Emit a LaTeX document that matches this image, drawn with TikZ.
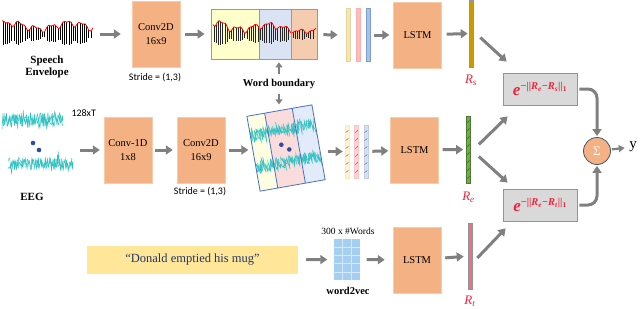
\documentclass[tikz,border=0pt]{standalone}
\usepackage{fontspec}
\setmainfont{Liberation Serif}
\newfontfamily\calib{Carlito}
\usetikzlibrary{calc,arrows.meta}
\definecolor{salmon}{HTML}{F4B183}
\definecolor{salmonedge}{HTML}{F8CBAD}
\definecolor{arrgray}{HTML}{808080}
\definecolor{segblue}{HTML}{4472C4}
\definecolor{segyel}{HTML}{FFFFCC}
\definecolor{segblu}{HTML}{DAE3F3}
\definecolor{segora}{HTML}{F4CCB0}
\definecolor{eyel}{HTML}{FDFDE2}
\definecolor{epink}{HTML}{FADCDC}
\definecolor{eblue}{HTML}{E3EAFA}
\definecolor{eegcyan}{HTML}{33C2C2}
\definecolor{dotblue}{HTML}{2F4BA8}
\definecolor{fred}{HTML}{F0243C}
\definecolor{cmpgray}{HTML}{D9D9D9}
\definecolor{cmpedge}{HTML}{8497B0}
\definecolor{navytxt}{HTML}{203864}
\definecolor{txtyel}{HTML}{FFE699}
\definecolor{w2vblue}{HTML}{A4CEF2}
\definecolor{gold}{HTML}{CC9900}
\definecolor{leaf}{HTML}{70AD47}
\definecolor{rose}{HTML}{FF6B6B}
\definecolor{slate}{HTML}{44546A}
\newcommand{\rsub}[1]{\textit{R}\textsubscript{\textit{#1}}}
\newcommand{\expd}[1]{\textit{e}\raisebox{6pt}{\fontsize{10.5}{11}\selectfont −||\rsub{e}−\rsub{#1}||\textsubscript{1}}}
\tikzset{blk/.style={draw=salmonedge,fill=salmon,minimum width=48pt,minimum height=66pt,inner sep=0pt,align=center,font=\fontsize{10.5}{14}\selectfont},
arr/.style={draw=arrgray,line width=3pt,-{Triangle[width=9pt,length=7pt]},shorten <=4pt,shorten >=4pt},
vbar/.style={minimum width=4pt,minimum height=53pt,inner sep=0pt,line width=0.6pt},
cmp/.style={draw=cmpedge,fill=cmpgray,line width=0.8pt,minimum width=74pt,minimum height=32pt,text=fred,font=\bfseries\fontsize{17}{18}\selectfont},
rlab/.style={text=fred,font=\fontsize{13}{14}\selectfont},
lbl/.style={font=\bfseries\fontsize{10.5}{11}\selectfont,align=center},
note/.style={font=\calib\fontsize{10}{11}\selectfont},
noise/.style={eegcyan,line width=0.45pt}}

\begin{document}
\begin{tikzpicture}[x=1pt,y=-1pt,declare function={envA(\t)=9+3*sin(6*\t+30)+2.5*sin(23*\t)+1.5*sin(47*\t+10);}]
\useasboundingbox (0,0) rectangle (640,308);
\foreach \x in {3,5.2,...,92} \draw[line width=0.9pt] (\x,{35-envA(\x)}) -- (\x,{35+0.7*envA(\x)});
\draw[red,line width=0.8pt] plot[smooth,domain=2:93,samples=46] (\x,{35-envA(\x)});
\node[minimum width=92pt,minimum height=34pt] (spw) at (47,34) {};
\node[lbl,font=\bfseries\fontsize{11}{11.5}\selectfont] (spl) at (47,67) {Speech\\Envelope};
\node[blk] (cnvS) at (156,34) {Conv2D\\16x9};
\node[note] (strS) at (155,78) {Stride = (1,3)};
\fill[segyel] (211,9) rectangle (259,59); \fill[segblu] (259,9) rectangle (291,59); \fill[segora] (291,9) rectangle (317,59);
\foreach \x in {214,216.2,...,315} \draw[line width=0.8pt,black!85] (\x,{36-(1.25-(\x-211)/180)*envA(\x-140)}) -- (\x,{36+0.6*(1.25-(\x-211)/180)*envA(\x-140)});
\draw[red,line width=0.8pt] plot[smooth,domain=213:316,samples=50] (\x,{36-(1.25-(\x-211)/180)*envA(\x-140)});
\node[draw=segblue!70,line width=0.8pt,minimum width=106pt,minimum height=50pt,inner sep=0pt] (segS) at (264,34) {};
\draw[segblue!70,line width=0.8pt] (259,9) -- (259,59) (291,9) -- (291,59);
\node[lbl] (wb) at (279,84) {Word boundary};
\node[vbar,fill=txtyel,draw=txtyel!80!black!60] (b1) at (348,35) {};
\node[vbar,fill=rose!45,draw=rose!55] (b2) at (358,35) {};
\node[vbar,fill=segblue!45,draw=segblue!70] (b3) at (368,35) {};
\node[blk] (lstmS) at (417.5,35) {LSTM};
\node[vbar,minimum height=67pt,fill=gold,draw=cmpedge] (rs) at (471,33.5) {};
\node[rlab] (rsl) at (471,80) {\rsub{s}};
\pgfmathsetseed{3}
\foreach \c in {0,1} {\draw[noise] plot[domain=2:63,samples=110] (\x,{120+7*rand+8*rand*rand*rand});
\draw[noise] plot[domain=8:73,samples=110] (\x,{164+6*rand+8*rand*rand*rand});}
\fill[dotblue] (33,143) circle (2.3pt) (39,150) circle (2.3pt);
\node[minimum width=72pt,minimum height=60pt] (eeg) at (38,150) {};
\node[note,anchor=west] (dimE) at (68,113) {128xT};
\node[lbl,font=\bfseries\fontsize{11}{12}\selectfont] (eegl) at (32,197) {EEG};
\node[blk] (cnv1E) at (128,150) {Conv-1D\\1x8};
\node[blk] (cnv2E) at (201,150) {Conv2D\\16x9};
\node[note] (strE) at (200,192) {Stride = (1,3)};
\node[rotate=10,minimum width=66pt,minimum height=76pt,inner sep=0pt] (segE) at (286,148) {};
\begin{scope}[shift={(286,148)},rotate=10]
\fill[eyel] (-33,-38) rectangle (-15,38); \fill[epink] (-15,-38) rectangle (13,38); \fill[eblue] (13,-38) rectangle (33,38);
\begin{scope}
\clip (-33,-38) rectangle (33,38);
\foreach \c in {0,1} {\draw[noise] plot[domain=-36:36,samples=120] (\x,{-18+6*rand+8*rand*rand*rand});
\draw[noise] plot[domain=-36:36,samples=120] (\x,{14+6*rand+8*rand*rand*rand});}
\end{scope}
\fill[dotblue] (-4,-4) circle (2.3pt) (3,2) circle (2.3pt);
\draw[segblue,line width=0.8pt] (-33,-38) rectangle (33,38) (-15,-38) -- (-15,38) (13,-38) -- (13,38);
\end{scope}
\node[vbar,fill=txtyel!50,draw=txtyel!80] (b4) at (347,151.5) {};
\node[vbar,fill=rose!30,draw=rose!40] (b5) at (356.5,151.5) {};
\node[vbar,fill=segblue!22,draw=segblue!35] (b6) at (366,151.5) {};
\foreach \b in {b4,b5,b6} \foreach \k in {-20,-12,...,20} \draw[black!65,line width=0.4pt] ($(\b)+(-1.3,\k+1)$) -- ($(\b)+(1.3,\k-1)$);
\node[blk] (lstmE) at (414.5,150) {LSTM};
\node[vbar,minimum height=67pt,fill=leaf,draw=leaf!70!black] (re) at (468.5,149.5) {};
\foreach \k in {-28,-20,...,28} \draw[black!70,line width=0.4pt] ($(re)+(-1.3,\k+1)$) -- ($(re)+(1.3,\k-1)$);
\node[rlab] (rel) at (468.5,197) {\rsub{e}};
\node[fill=txtyel,minimum width=211pt,minimum height=28pt,text=navytxt,font=\fontsize{12.5}{14}\selectfont] (sent) at (192.5,260) {“Donald emptied his mug”};
\node[fill=w2vblue,minimum width=26pt,minimum height=41pt,inner sep=0pt] (w2v) at (346.5,259.5) {};
\foreach \i in {1,2} \draw[white!55!w2vblue,line width=0.6pt] ($(w2v.north west)!\i/3!(w2v.north east)$) -- ($(w2v.south west)!\i/3!(w2v.south east)$);
\foreach \i in {1,...,4} \draw[white!55!w2vblue,line width=0.6pt] ($(w2v.north west)!\i/5!(w2v.south west)$) -- ($(w2v.north east)!\i/5!(w2v.south east)$);
\node[font=\fontsize{9.5}{10}\selectfont] (w2vd) at (348,231) {300 x \#Words};
\node[lbl] (w2vl) at (348,291) {word2vec};
\node[blk] (lstmT) at (417,260) {LSTM};
\node[vbar,minimum height=66pt,fill=rose,draw=cmpedge] (rt) at (470,256) {};
\node[rlab] (rtl) at (470,301) {\rsub{t}};
\node[cmp] (cmpS) at (540,89) {\expd{s}};
\node[cmp] (cmpT) at (540,205) {\expd{t}};
\node[circle,fill=salmon,draw=slate,line width=0.8pt,minimum size=27pt,inner sep=0pt,text=white,font=\fontsize{13}{13}\selectfont] (sum) at (597,151) {Σ};
\node[font=\fontsize{15}{15}\selectfont] (yout) at (633,147) {y};
\draw[arr,shorten <=7pt,shorten >=11pt] (spw) -- (cnvS);
\draw[arr,shorten <=5pt,shorten >=6pt] (cnvS) -- (segS);
\draw[arr,shorten <=6pt,shorten >=8pt] (segS) -- (b1);
\draw[arr] (b3) -- (lstmS);
\draw[arr,shorten <=5pt,shorten >=1pt] (lstmS) -- (rs);
\draw[arr,line width=2pt,-{Triangle[width=7pt,length=5pt]},shorten <=2pt,shorten >=3pt] (wb.north) -- (wb.north |- segS.south);
\draw[arr,line width=2pt,-{Triangle[width=7pt,length=5pt]},shorten <=2pt,shorten >=6pt] (wb.south) -- (wb.south |- segE.north);
\draw[arr,shorten <=6pt] (eeg) -- (cnv1E);
\draw[arr,shorten <=3pt] (cnv1E) -- (cnv2E);
\draw[arr,shorten >=5pt] (cnv2E.east) -- (cnv2E.east -| segE.west);
\draw[arr,shorten <=9pt,shorten >=2pt] (segE.east |- b4.west) -- (b4.west);
\draw[arr,shorten >=2pt] (b6) -- (lstmE);
\draw[arr,shorten >=3pt] (lstmE) -- (re);
\draw[arr,shorten <=8pt,shorten >=6pt] (sent) -- (w2v);
\draw[arr,shorten <=7pt,shorten >=8pt] (w2v) -- (lstmT);
\draw[arr] (lstmT) -- (rt);
\draw[arr,shorten <=0pt,shorten >=0pt] ([xshift=7pt,yshift=-4pt]rs.east) -- ([xshift=4pt,yshift=11pt]cmpS.north west);
\draw[arr,shorten <=0pt,shorten >=0pt] ([xshift=8pt,yshift=5pt]re.east) -- ([xshift=5pt,yshift=-11pt]cmpS.south west);
\draw[arr,shorten <=0pt,shorten >=0pt] ([xshift=8pt,yshift=-7pt]re.east) -- ([xshift=5pt,yshift=6pt]cmpT.north west);
\draw[arr,shorten <=0pt,shorten >=0pt] ([xshift=5pt,yshift=-2pt]rt.east) -- ([xshift=3pt,yshift=-7pt]cmpT.south west);
\draw[arr,rounded corners=9pt,shorten <=2pt,shorten >=1pt] (cmpS.east) -| (sum.north);
\draw[arr,rounded corners=9pt,shorten <=2pt,shorten >=1pt] (cmpT.east) -| (sum.south);
\draw[arr,line width=2.2pt,-{Triangle[width=7pt,length=6pt]},shorten <=1pt,shorten >=1pt] (sum) -- (yout);
\end{tikzpicture}
\end{document}
